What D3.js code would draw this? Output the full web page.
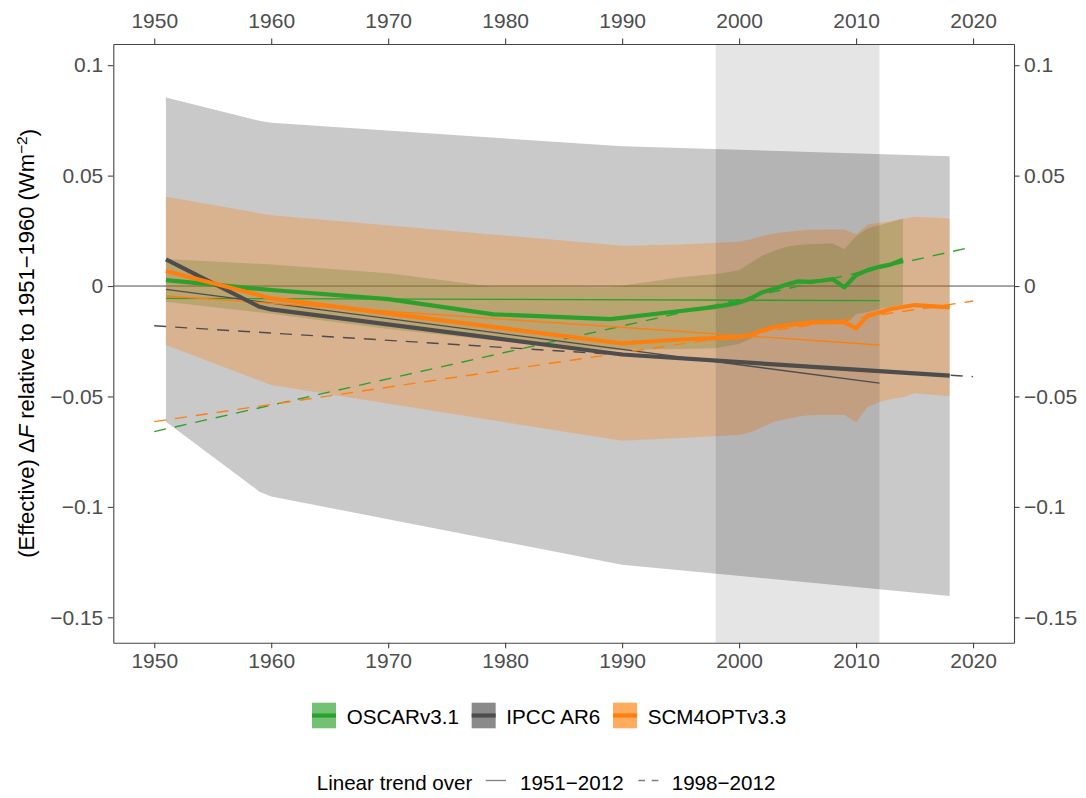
<!DOCTYPE html>
<html>
<head>
<meta charset="utf-8">
<script src="https://cdn.jsdelivr.net/npm/d3@7/dist/d3.min.js"></script>
<style>
  html, body { margin: 0; padding: 0; background: #fff; }
  svg { display: block; font-family: "Liberation Sans", Arial, Helvetica, sans-serif; }
</style>
</head>
<body>
<svg id="chart" width="1086" height="798"></svg>
<script>
// ---- Data -------------------------------------------------------------
const seriesNames = ["OSCARv3.1", "IPCC AR6", "SCM4OPTv3.3"];
const seriesColors = ["#2ca02c", "#4d4d4d", "#ff7f0e"];

// OSCARv3.1: central estimate and range (W m-2, relative to 1951-1960)
const oscarYears = [1951, 1960, 1970, 1979, 1989, 1995, 1998, 1999, 2000, 2001, 2002, 2003, 2004, 2005, 2006, 2007, 2008, 2009, 2010, 2011, 2012, 2013, 2014];
const oscarMid   = [0.0027, -0.0018, -0.0059, -0.0128, -0.0150, -0.0113, -0.0094, -0.0085, -0.0075, -0.0056, -0.0028, -0.0012, 0.0006, 0.0021, 0.0019, 0.0024, 0.0031, -0.0006, 0.0050, 0.0072, 0.0087, 0.0098, 0.0120];
const oscarLow   = [-0.0071, -0.0125, -0.0195, -0.0245, -0.0288, -0.0285, -0.0282, -0.0272, -0.0262, -0.0238, -0.0208, -0.0188, -0.0176, -0.0168, -0.0162, -0.0157, -0.0152, -0.0175, -0.0128, -0.0118, -0.0104, -0.0094, -0.0085];
const oscarHigh  = [0.0122, 0.0098, 0.0058, -0.0003, -0.0006, 0.0040, 0.0055, 0.0062, 0.0072, 0.0105, 0.0138, 0.0160, 0.0177, 0.0186, 0.0189, 0.0191, 0.0193, 0.0167, 0.0226, 0.0262, 0.0275, 0.0290, 0.0305];

// IPCC AR6
const ipccYears = [1951, 1959, 1960, 1990, 2018];
const ipccMid   = [0.0121, -0.0094, -0.0106, -0.0310, -0.0406];
const ipccLow   = [-0.0614, -0.0931, -0.0953, -0.1262, -0.1403];
const ipccHigh  = [0.0854, 0.0748, 0.0739, 0.0633, 0.0588];

// SCM4OPTv3.3
const scmYears = [1951, 1960, 1990, 1995, 2000, 2001, 2002, 2003, 2004, 2005, 2006, 2007, 2008, 2009, 2010, 2011, 2012, 2013, 2014, 2015, 2016, 2017, 2018];
const scmMid   = [0.0068, -0.0056, -0.0260, -0.0242, -0.0231, -0.0222, -0.0200, -0.0186, -0.0178, -0.0171, -0.0166, -0.0163, -0.0162, -0.0163, -0.0192, -0.0134, -0.0120, -0.0104, -0.0095, -0.0086, -0.0090, -0.0093, -0.0096];
const scmLow   = [-0.0267, -0.0448, -0.0701, -0.0688, -0.0674, -0.0662, -0.0638, -0.0614, -0.0603, -0.0592, -0.0585, -0.0584, -0.0584, -0.0584, -0.0617, -0.0547, -0.0525, -0.0512, -0.0504, -0.0486, -0.0490, -0.0494, -0.0498];
const scmHigh  = [0.0404, 0.0321, 0.0182, 0.0188, 0.0200, 0.0212, 0.0228, 0.0238, 0.0245, 0.0250, 0.0255, 0.0256, 0.0256, 0.0256, 0.0234, 0.0279, 0.0287, 0.0295, 0.0305, 0.0314, 0.0311, 0.0309, 0.0306];

// Linear trends (values at the ends of each drawn segment), order as seriesNames
const trendFullYears   = [1951, 2012];
const trendFullStart   = [-0.0056, -0.0015, -0.0045];
const trendFullEnd     = [-0.0066, -0.0440, -0.0267];
const trendRecentYears = [1950, 2020];
const trendRecentStart = [-0.0659, -0.0180, -0.0614];
const trendRecentEnd   = [0.0178, -0.0410, -0.0068];

// Highlighted period
const periodYears = [1998, 2012];

// Axis ticks
const xTicks = [1950, 1960, 1970, 1980, 1990, 2000, 2010, 2020];
const xTickLabels = ["1950", "1960", "1970", "1980", "1990", "2000", "2010", "2020"];
const yTicks = [-0.15, -0.1, -0.05, 0, 0.05, 0.1];
const yTickLabels = ["\u22120.15", "\u22120.1", "\u22120.05", "0", "0.05", "0.1"];

const trendLabels = ["1951\u22122012", "1998\u22122012"];

// ---- Layout -----------------------------------------------------------
const panel = { left: 113.3, right: 1014, top: 44, bottom: 642.7 };
const x = d3.scaleLinear().domain([1946.5, 2023.5]).range([panel.left, panel.right]);
const y = d3.scaleLinear().domain([-0.1615, 0.1096]).range([panel.bottom, panel.top]);

const svg = d3.select("#chart");

const zip = (yrs, mid, lo, hi) => yrs.map((yr, i) => ({ year: yr, mid: mid[i], low: lo[i], high: hi[i] }));
const series = [
  zip(oscarYears, oscarMid, oscarLow, oscarHigh),
  zip(ipccYears, ipccMid, ipccLow, ipccHigh),
  zip(scmYears, scmMid, scmLow, scmHigh)
];

const plot = svg.append("g");

// zero reference line (beneath the ribbons)
plot.append("line")
  .attr("x1", panel.left).attr("x2", panel.right)
  .attr("y1", y(0)).attr("y2", y(0))
  .attr("stroke", "#4d4d4d").attr("stroke-width", 1);

// ribbons
const area = d3.area()
  .x(d => x(d.year))
  .y0(d => y(d.low))
  .y1(d => y(d.high));

series.forEach((s, i) => {
  plot.append("path")
    .datum(s)
    .attr("d", area)
    .attr("fill", seriesColors[i])
    .attr("fill-opacity", 0.3);
});

// highlighted period
plot.append("rect")
  .attr("x", x(periodYears[0]))
  .attr("width", x(periodYears[1]) - x(periodYears[0]))
  .attr("y", panel.top)
  .attr("height", panel.bottom - panel.top)
  .attr("fill", "#000")
  .attr("fill-opacity", 0.1);

// trend lines
seriesNames.forEach((n, i) => {
  plot.append("line")
    .attr("x1", x(trendFullYears[0])).attr("x2", x(trendFullYears[1]))
    .attr("y1", y(trendFullStart[i])).attr("y2", y(trendFullEnd[i]))
    .attr("stroke", seriesColors[i]).attr("stroke-width", 1.3);
  plot.append("line")
    .attr("x1", x(trendRecentYears[0])).attr("x2", x(trendRecentYears[1]))
    .attr("y1", y(trendRecentStart[i])).attr("y2", y(trendRecentEnd[i]))
    .attr("stroke", seriesColors[i]).attr("stroke-width", 1.4)
    .attr("stroke-dasharray", "12,9");
});

// central estimates
const line = d3.line().x(d => x(d.year)).y(d => y(d.mid));
series.forEach((s, i) => {
  plot.append("path")
    .datum(s)
    .attr("d", line)
    .attr("fill", "none")
    .attr("stroke", seriesColors[i])
    .attr("stroke-width", 4.2)
    .attr("stroke-linejoin", "round");
});

// ---- Axes -------------------------------------------------------------
function styleAxis(g) {
  g.selectAll("path.domain").attr("stroke", "#444").attr("stroke-width", 1.1);
  g.selectAll(".tick line").attr("stroke", "#444").attr("stroke-width", 1.1);
  g.selectAll(".tick text").attr("fill", "#4d4d4d").style("font-size", "21px")
    .style("font-family", "'Liberation Sans', Arial, Helvetica, sans-serif");
}

svg.append("g").attr("transform", `translate(0,${panel.bottom})`)
  .call(d3.axisBottom(x).tickValues(xTicks).tickFormat((d, i) => xTickLabels[i]).tickSize(5.5).tickSizeOuter(0).tickPadding(5))
  .call(styleAxis);
svg.append("g").attr("transform", `translate(0,${panel.top})`)
  .call(d3.axisTop(x).tickValues(xTicks).tickFormat((d, i) => xTickLabels[i]).tickSize(5.5).tickSizeOuter(0).tickPadding(11))
  .call(styleAxis);
svg.append("g").attr("transform", `translate(${panel.left},0)`)
  .call(d3.axisLeft(y).tickValues(yTicks).tickFormat((d, i) => yTickLabels[i]).tickSize(5.5).tickSizeOuter(0).tickPadding(4.5))
  .call(styleAxis);
svg.append("g").attr("transform", `translate(${panel.right},0)`)
  .call(d3.axisRight(y).tickValues(yTicks).tickFormat((d, i) => yTickLabels[i]).tickSize(5.5).tickSizeOuter(0).tickPadding(4.5))
  .call(styleAxis);

// y-axis title
const yTitle = svg.append("text")
  .attr("transform", `translate(33.5,${(panel.top + panel.bottom) / 2}) rotate(-90)`)
  .attr("text-anchor", "middle")
  .attr("fill", "#000")
  .style("font-size", "22px");
yTitle.append("tspan").text("(Effective) \u0394");
yTitle.append("tspan").style("font-style", "italic").text("F");
yTitle.append("tspan").text(" relative to 1951\u22121960 (Wm");
yTitle.append("tspan").attr("dy", "-0.45em").style("font-size", "15.5px").text("\u22122");
yTitle.append("tspan").attr("dy", "0.45em").text(")");

// ---- Legends ----------------------------------------------------------
const leg1 = svg.append("g");
let lx = 312;
const keyW = 24, keyH = 25.6, keyTop = 702.7;
seriesNames.forEach((n, i) => {
  leg1.append("rect")
    .attr("x", lx).attr("y", keyTop).attr("width", keyW).attr("height", keyH)
    .attr("fill", seriesColors[i]).attr("fill-opacity", 0.657);
  leg1.append("line")
    .attr("x1", lx).attr("x2", lx + keyW)
    .attr("y1", keyTop + keyH / 2).attr("y2", keyTop + keyH / 2)
    .attr("stroke", seriesColors[i]).attr("stroke-width", 4.2);
  const t = leg1.append("text")
    .attr("x", lx + keyW + 10.7).attr("y", 724.3)
    .attr("fill", "#000").style("font-size", "20.6px")
    .text(n);
  lx = lx + keyW + 10.7 + t.node().getComputedTextLength() + 12.8;
});

const leg2 = svg.append("g");
leg2.append("text").attr("x", 316.7).attr("y", 790)
  .attr("fill", "#000").style("font-size", "20.6px").text("Linear trend over");
const trendKeys = [
  { x1: 485.7, tx: 520, dash: null },
  { x1: 638.3, tx: 671.7, dash: "6.7,6.7" }
];
trendKeys.forEach((k, i) => {
  const l = leg2.append("line")
    .attr("x1", k.x1).attr("x2", k.x1 + 20.3)
    .attr("y1", 780.5).attr("y2", 780.5)
    .attr("stroke", "#7f7f7f").attr("stroke-width", 1.3);
  if (k.dash) l.attr("stroke-dasharray", k.dash);
  leg2.append("text").attr("x", k.tx).attr("y", 790)
    .attr("fill", "#000").style("font-size", "20.6px").text(trendLabels[i]);
});
</script>
</body>
</html>
